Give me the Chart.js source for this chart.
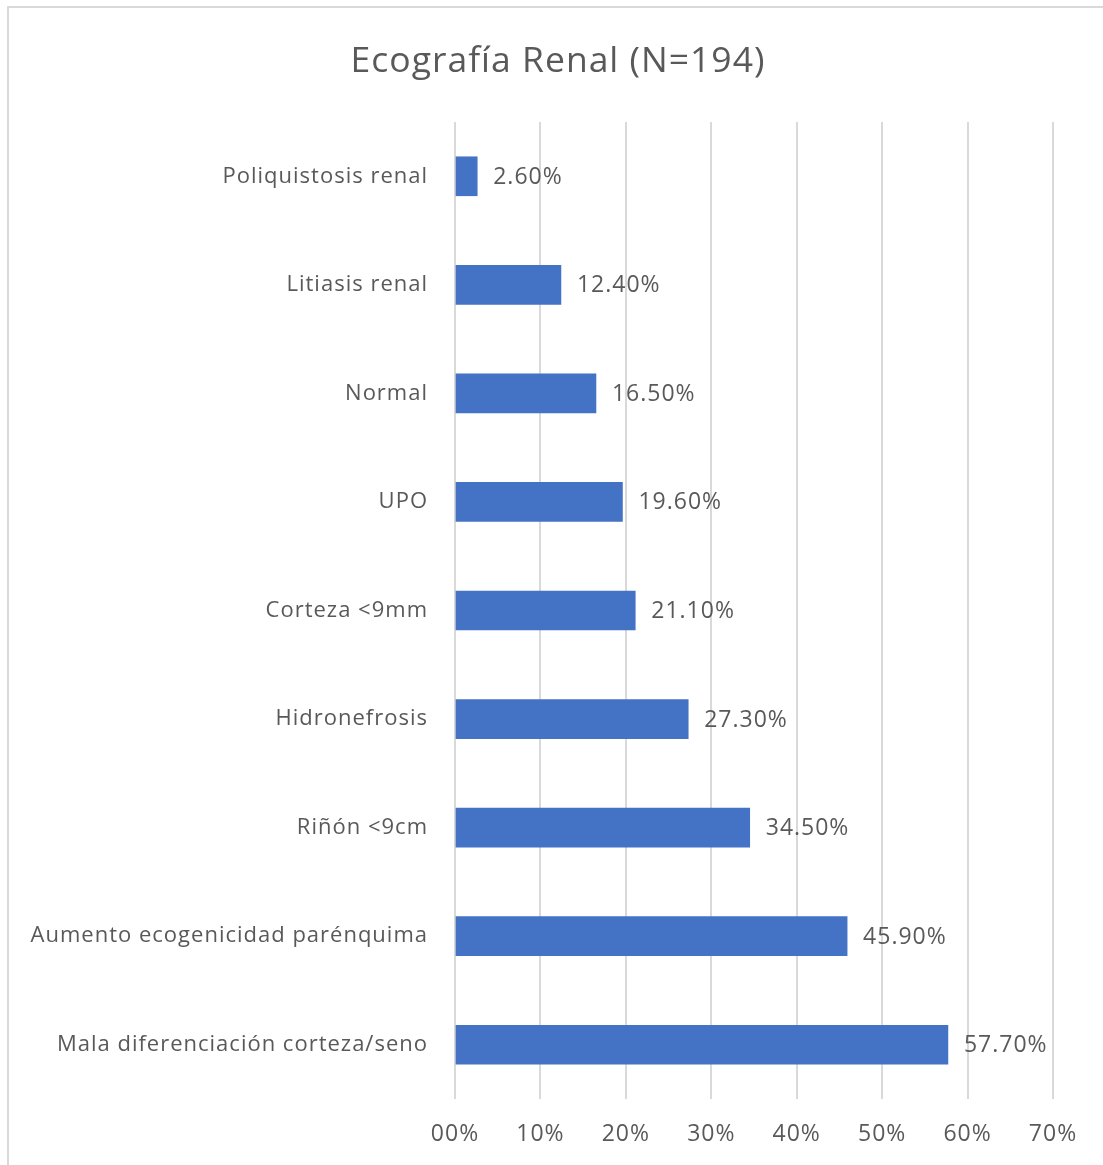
<!DOCTYPE html>
<html>
<head>
<meta charset="utf-8">
<script src="https://cdn.jsdelivr.net/npm/chart.js@4/dist/chart.umd.min.js"></script>
<style>
  html, body { margin: 0; padding: 0; background: #fff; }
  #wrap { position: relative; width: 1103px; height: 1165px; overflow: hidden; }
  #frame { position: absolute; left: 7px; top: 6px; width: 1200px; height: 1300px; border: 2px solid #d9d9d9; box-sizing: border-box; }
  #chart { position: absolute; left: 0; top: 0; }
</style>
</head>
<body>
<div id="wrap">
  <div id="frame"></div>
  <canvas id="chart" width="1103" height="1165"></canvas>
</div>
<script>
const titleText = "Ecografía Renal (N=194)";
const categories = [
  "Poliquistosis renal",
  "Litiasis renal",
  "Normal",
  "UPO",
  "Corteza <9mm",
  "Hidronefrosis",
  "Riñón <9cm",
  "Aumento ecogenicidad parénquima",
  "Mala diferenciación corteza/seno"
];
const percentages = [2.6, 12.4, 16.5, 19.6, 21.1, 27.3, 34.5, 45.9, 57.7];
const tickLabels = ["00%", "10%", "20%", "30%", "40%", "50%", "60%", "70%"];

const textColor = "#595959";
const fontFamily = "'Open Sans', 'Noto Sans', sans-serif";

// un poco de espaciado entre letras, como en el original
const spacing = {
  id: "spacing",
  beforeDraw(chart) {
    chart.ctx.letterSpacing = "1px";
  }
};

// titulo centrado sobre el marco (no sobre el area del grafico)
const frameTitle = {
  id: "frameTitle",
  afterDraw(chart) {
    const ctx = chart.ctx;
    ctx.save();
    ctx.fillStyle = textColor;
    ctx.font = "35.5px " + fontFamily;
    ctx.textAlign = "left";
    ctx.textBaseline = "middle";
    const w = ctx.measureText(titleText).width;
    ctx.fillText(titleText, 558 - w / 2, 62);
    ctx.restore();
  }
};

// etiquetas de valor al final de cada barra
const valueLabels = {
  id: "valueLabels",
  afterDatasetsDraw(chart) {
    const ctx = chart.ctx;
    const meta = chart.getDatasetMeta(0);
    ctx.save();
    ctx.fillStyle = textColor;
    ctx.font = "23px " + fontFamily;
    ctx.textAlign = "left";
    ctx.textBaseline = "middle";
    meta.data.forEach((bar, i) => {
      ctx.fillText(percentages[i].toFixed(2) + "%", bar.x + 16, bar.y + 1);
    });
    ctx.restore();
  }
};

new Chart(document.getElementById("chart").getContext("2d"), {
  type: "bar",
  data: {
    labels: categories,
    datasets: [{
      data: percentages,
      backgroundColor: "#4472C4",
      barThickness: 39
    }]
  },
  options: {
    indexAxis: "y",
    responsive: false,
    animation: false,
    layout: { padding: { left: 0, right: 50, top: 122, bottom: 0 } },
    plugins: {
      legend: { display: false },
      tooltip: { enabled: false },
      title: { display: false }
    },
    scales: {
      x: {
        min: 0,
        max: 70,
        grid: { color: "#d9d9d9", lineWidth: 2, drawTicks: false },
        border: { display: false },
        ticks: {
          stepSize: 10,
          padding: 22,
          color: textColor,
          font: { family: fontFamily, size: 23 },
          callback: (v, i) => tickLabels[i]
        },
        afterFit(scale) { scale.height = 66; }
      },
      y: {
        grid: { display: false, drawTicks: false },
        border: { display: false },
        ticks: {
          padding: 27,
          color: textColor,
          font: { family: fontFamily, size: 22 }
        },
        afterFit(scale) { scale.width = 455; }
      }
    }
  },
  plugins: [spacing, valueLabels, frameTitle]
});
</script>
</body>
</html>
